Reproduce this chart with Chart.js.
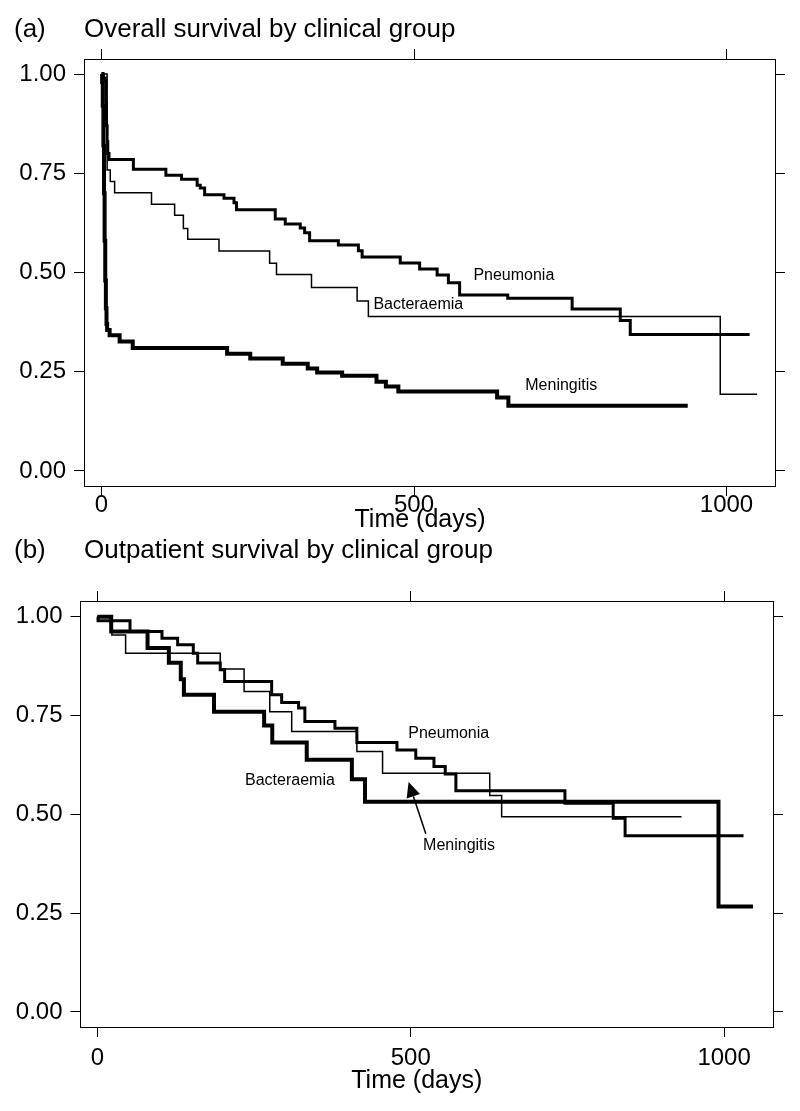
<!DOCTYPE html>
<html>
<head>
<meta charset="utf-8">
<script src="https://cdn.jsdelivr.net/npm/chart.js@4/dist/chart.umd.min.js"></script>
<style>
  html, body { margin: 0; padding: 0; background: #fff; }
  body { width: 800px; height: 1111px; position: relative; overflow: hidden; }
  .panel { position: absolute; left: 0; width: 800px; }
  #panelA { top: 0; height: 555px; }
  #panelB { top: 520px; height: 591px; }
</style>
</head>
<body>
<div class="panel" id="panelA"><canvas id="chartA" width="800" height="555"></canvas></div>
<div class="panel" id="panelB"><canvas id="chartB" width="800" height="591"></canvas></div>
<script>
(function(){
    "use strict";

    // tick labels
    var timeTicks = [0, 500, 1000];
    var survTicks = [0, 0.25, 0.5, 0.75, 1];

    // (a) overall survival, Kaplan-Meier steps (day, survival after the step)
    var overallPneuDays = [0, 3, 6, 7, 8, 9, 10, 12, 51, 103, 128, 153, 158, 165, 196, 212, 216, 278, 294, 318, 325, 333, 379, 411, 417, 478, 509, 537, 555, 573, 650, 753, 830, 846, 1037];
    var overallPneuSurv = [1, 0.99, 0.985, 0.93, 0.87, 0.83, 0.8, 0.785, 0.76, 0.745, 0.735, 0.72, 0.713, 0.696, 0.687, 0.676, 0.658, 0.635, 0.622, 0.612, 0.6, 0.58, 0.569, 0.555, 0.539, 0.524, 0.509, 0.494, 0.474, 0.443, 0.435, 0.408, 0.379, 0.344, 0.344];

    var overallBactDays = [0, 9, 14, 21, 80, 117, 131, 138, 188, 269, 280, 336, 409, 427, 990, 1049];
    var overallBactSurv = [1, 0.758, 0.729, 0.701, 0.672, 0.644, 0.611, 0.584, 0.554, 0.523, 0.495, 0.462, 0.428, 0.389, 0.193, 0.193];

    var overallMeniDays = [0, 1, 2, 3, 4, 5, 6, 7, 8, 9, 13, 29, 50, 201, 238, 290, 330, 345, 385, 440, 455, 475, 633, 651, 938];
    var overallMeniSurv = [1, 0.98, 0.92, 0.82, 0.7, 0.58, 0.48, 0.41, 0.37, 0.355, 0.342, 0.326, 0.31, 0.295, 0.283, 0.27, 0.258, 0.248, 0.24, 0.225, 0.213, 0.2, 0.185, 0.164, 0.164];

    // (b) outpatient survival
    var outPneuDays = [0, 1, 52, 103, 128, 153, 160, 196, 203, 278, 294, 321, 331, 379, 414, 478, 508, 537, 555, 572, 746, 823, 842, 1031];
    var outPneuSurv = [1, 0.99, 0.963, 0.946, 0.929, 0.908, 0.883, 0.866, 0.836, 0.803, 0.783, 0.769, 0.735, 0.718, 0.682, 0.663, 0.642, 0.621, 0.602, 0.56, 0.528, 0.49, 0.446, 0.446];

    var outBactDays = [0, 22, 80, 114, 133, 138, 186, 266, 279, 334, 406, 427, 991, 1046];
    var outBactSurv = [1, 0.963, 0.921, 0.884, 0.842, 0.803, 0.76, 0.725, 0.682, 0.638, 0.589, 0.532, 0.267, 0.267];

    var outMeniDays = [0, 23, 45, 196, 234, 275, 310, 414, 455, 626, 645, 932];
    var outMeniSurv = [1, 0.954, 0.908, 0.868, 0.811, 0.76, 0.71, 0.659, 0.604, 0.548, 0.494, 0.494];

    var FONT = "'Liberation Sans', Arial, Helvetica, sans-serif";

    var toPoints = function(days, surv) {
        var pts = [];
        for(var i = 0; i < days.length; i++) {
            pts.push({x: days[i], y: surv[i]});
        }
        return pts;
    };

    var kmLine = function(label, days, surv, width) {
        return {
            label: label,
            data: toPoints(days, surv),
            stepped: true,
            borderColor: "#000",
            borderWidth: width,
            borderJoinStyle: "miter",
            borderCapStyle: "butt",
            pointRadius: 0,
            fill: false
        };
    };

    // draws panel titles, curve labels and the arrow
    var panelText = {
        id: "panelText",
        afterDraw: function(chart, args, opts) {
            var ctx = chart.ctx;
            var xs = chart.scales.x, ys = chart.scales.y;
            ctx.save();
            ctx.fillStyle = "#000";
            ctx.strokeStyle = "#000";
            ctx.textBaseline = "alphabetic";
            ctx.textAlign = "left";
            ctx.font = "26px " + FONT;
            ctx.fillText(opts.tag, 14, opts.titleY);
            ctx.fillText(opts.title, 84, opts.titleY);

            ctx.textAlign = "center";
            ctx.textBaseline = "middle";
            ctx.font = "25px " + FONT;
            ctx.fillText("Time (days)", xs.getPixelForValue(500) + 6, opts.xTitleY);

            ctx.textAlign = "left";
            ctx.font = "16px " + FONT;
            for(var i = 0; i < opts.labels.length; i++) {
                var l = opts.labels[i];
                ctx.fillText(l.text, xs.getPixelForValue(l.x), ys.getPixelForValue(l.y));
            }

            if(opts.arrow) {
                var a = opts.arrow;
                var x1 = xs.getPixelForValue(a.from[0]), y1 = ys.getPixelForValue(a.from[1]);
                var x2 = xs.getPixelForValue(a.to[0]), y2 = ys.getPixelForValue(a.to[1]);
                var ang = Math.atan2(y2 - y1, x2 - x1);
                var len = 15, half = 7;
                var bx = x2 - len * Math.cos(ang), by = y2 - len * Math.sin(ang);
                ctx.lineWidth = 1.5;
                ctx.beginPath();
                ctx.moveTo(x1, y1);
                ctx.lineTo(bx, by);
                ctx.stroke();
                ctx.beginPath();
                ctx.moveTo(x2, y2);
                ctx.lineTo(bx + half * Math.sin(ang), by - half * Math.cos(ang));
                ctx.lineTo(bx - half * Math.sin(ang), by + half * Math.cos(ang));
                ctx.closePath();
                ctx.fill();
            }
            ctx.restore();
        }
    };

    var fixedTicks = function(values) {
        return function(scale) {
            scale.ticks = values.map(function(v){ return {value: v}; });
        };
    };

    var boxAxis = function(position, min, max, ticks, size, showLabels, labelPad) {
        var horizontal = position === "top" || position === "bottom";
        var axis = {
            type: "linear",
            position: position,
            min: min,
            max: max,
            afterBuildTicks: fixedTicks(ticks),
            afterFit: function(scale) {
                if(horizontal) {
                    scale.height = size;
                }else {
                    scale.width = size;
                }
            },
            grid: {
                drawOnChartArea: false,
                drawTicks: true,
                tickLength: 10,
                color: "#000",
                lineWidth: 1
            },
            border: { display: true, color: "#000", width: 1 },
            ticks: {
                display: showLabels,
                color: "#000",
                font: { family: FONT, size: 24 },
                padding: labelPad,
                maxRotation: 0,
                autoSkip: false,
                callback: function(v) {
                    return horizontal ? String(v) : v.toFixed(2);
                }
            }
        };
        return axis;
    };

    var makeChart = function(canvasId, datasets, box, textOpts) {
        var canvas = document.getElementById(canvasId);
        return new Chart(canvas, {
            type: "line",
            data: { datasets: datasets },
            plugins: [panelText],
            options: {
                responsive: false,
                animation: false,
                devicePixelRatio: 1,
                layout: { padding: 0 },
                plugins: {
                    legend: { display: false },
                    tooltip: { enabled: false },
                    panelText: textOpts
                },
                scales: {
                    x: boxAxis("bottom", box.xMin, box.xMax, timeTicks, box.bottom, true, box.xPad),
                    x2: boxAxis("top", box.xMin, box.xMax, timeTicks, box.top, false, 0),
                    y: boxAxis("left", box.yMin, box.yMax, survTicks, box.left, true, 8),
                    y2: boxAxis("right", box.yMin, box.yMax, survTicks, box.right, false, 0)
                }
            }
        });
    };

    makeChart("chartA", [
        kmLine("Bacteraemia", overallBactDays, overallBactSurv, 1.5),
        kmLine("Pneumonia", overallPneuDays, overallPneuSurv, 3),
        kmLine("Meningitis", overallMeniDays, overallMeniSurv, 4)
    ], {
        xMin: -28, xMax: 1077.6, yMin: -0.038, yMax: 1.038,
        left: 84, right: 25, top: 59, bottom: 69, xPad: -5
    }, {
        tag: "(a)",
        title: "Overall survival by clinical group",
        titleY: 37,
        xTitleY: 520,
        labels: [
            {text: "Pneumonia", x: 595, y: 0.491},
            {text: "Bacteraemia", x: 435, y: 0.418},
            {text: "Meningitis", x: 678, y: 0.214}
        ]
    });

    makeChart("chartB", [
        kmLine("Meningitis", outMeniDays, outMeniSurv, 1.5),
        kmLine("Pneumonia", outPneuDays, outPneuSurv, 3),
        kmLine("Bacteraemia", outBactDays, outBactSurv, 4)
    ], {
        xMin: -27, xMax: 1078, yMin: -0.038, yMax: 1.04,
        left: 80.5, right: 27, top: 81, bottom: 84, xPad: 7
    }, {
        tag: "(b)",
        title: "Outpatient survival by clinical group",
        titleY: 38,
        xTitleY: 561,
        labels: [
            {text: "Pneumonia", x: 496, y: 0.704},
            {text: "Bacteraemia", x: 235.5, y: 0.585},
            {text: "Meningitis", x: 519.6, y: 0.42}
        ],
        arrow: { from: [524, 0.451], to: [496.5, 0.582] }
    });

})();
</script>
</body>
</html>
